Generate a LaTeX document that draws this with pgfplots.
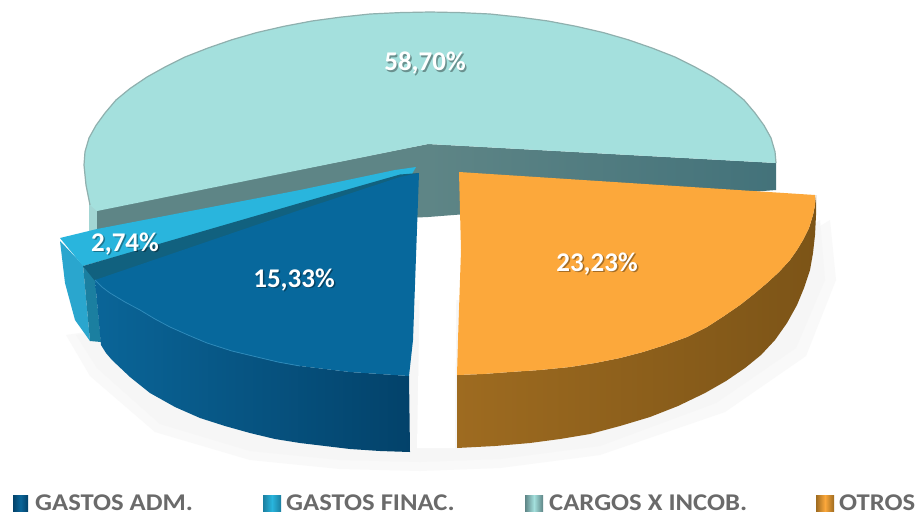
\documentclass[border=0pt]{standalone}
\usepackage{fontspec}
\setmainfont{Carlito}
\usepackage{graphicx}
\usepackage{pgfplots}
\pgfplotsset{compat=1.18}
\definecolor{tealtop}{HTML}{A4E0DD}
\definecolor{tealedge}{HTML}{8FB0AE}
\definecolor{tealwallA}{HTML}{5E8586}
\definecolor{tealwallB}{HTML}{43727A}
\definecolor{tealside}{HTML}{A3D6D4}
\definecolor{ltblue}{HTML}{29B5DD}
\definecolor{ltbluewall}{HTML}{2AA6CE}
\definecolor{ltbluedark}{HTML}{1B7FA0}
\definecolor{bluetop}{HTML}{07689C}
\definecolor{blueband}{HTML}{11617F}
\definecolor{bluewallA}{HTML}{0A6598}
\definecolor{bluewallB}{HTML}{03426A}
\definecolor{bluehi}{HTML}{2C88B8}
\definecolor{orangetop}{HTML}{FCA83B}
\definecolor{orangewallA}{HTML}{9E6B20}
\definecolor{orangewallB}{HTML}{7C5417}
\definecolor{legtext}{HTML}{6A6A6A}
\newcommand{\lab}[3]{%
  \node[text=black,opacity=.35,font=\bfseries\fontsize{27}{27}\selectfont] at (axis cs:#1+1.5,#2+1.5) {#3};
  \node[text=white,font=\bfseries\fontsize{27}{27}\selectfont] at (axis cs:#1,#2) {#3};}
\newcommand{\leg}[2]{%
  \node[text=legtext,anchor=west,inner sep=0pt,font=\bfseries\fontsize{24}{24}\selectfont] at (axis cs:#1,502.5) {\scalebox{1.11}[1]{#2}};}
\begin{document}
\begin{tikzpicture}
\begin{axis}[
  width=917pt,height=515pt,scale only axis,
  xmin=0,xmax=917,ymin=0,ymax=515,y dir=reverse,
  axis lines=none,clip=true]
% page
\addplot[fill=white,draw=none] coordinates {(0,0)(917,0)(917,515)(0,515)};
% soft shadow
\addplot[fill=black!2.5,draw=none] coordinates {(66,335)(90,376)(155,432)(250,460)(340,469)(420,471)(500,468)(600,455)(725,412)(806,356)(836,280)(830,220)(700,300)(300,300)};
\addplot[fill=black!3.5,draw=none] coordinates {(76,335)(97,368)(160,424)(250,451)(340,460)(420,462)(500,459)(600,446)(716,403)(796,348)(825,280)(820,220)(700,300)(300,300)};
\addplot[fill=white,draw=none] coordinates {(421,217)(457,217)(455,448)(417,448)};
% teal slice: side, back walls, top
\addplot[fill=tealside,draw=none] coordinates {(89,203)(97,210)(97,230)(89,236)};
\addplot[fill=tealwallA,draw=none] coordinates {(97,210)(428,144)(428,217)(97,232)};
\addplot[draw=none,left color=tealwallA,right color=tealwallB] coordinates {(428,144)(776,163)(776,190)(428,217)};
\addplot[fill=tealtop,draw=none] coordinates {(776,163)(775,151.7)(771,138)(764,125.4)(755,113)(744,100)(730,88.5)(713,77)(695,67)(675,57)(652,48)(628,39.7)(603,32.5)(576,26.3)(548,21)(520,17.2)(490,14)(460,12.6)(430,12)(400,12.6)(370,14)(340,17.2)(312,21)(284,26.3)(257,32.5)(232,39.7)(208,48)(185,57)(165,67)(147,77)(130,88.5)(116,100)(105,113)(96,125.4)(89,138)(85,151.7)(84,165)(86,185)(90,205)(97,211)(428,144)};
\addplot[draw=tealedge,line width=1.2pt] coordinates {(776,163)(775,151.7)(771,138)(764,125.4)(755,113)(744,100)(730,88.5)(713,77)(695,67)(675,57)(652,48)(628,39.7)(603,32.5)(576,26.3)(548,21)(520,17.2)(490,14)(460,12.6)(430,12)(400,12.6)(370,14)(340,17.2)(312,21)(284,26.3)(257,32.5)(232,39.7)(208,48)(185,57)(165,67)(147,77)(130,88.5)(116,100)(105,113)(96,125.4)(89,138)(85,151.7)(84,165)(86,185)(90,205)};
% light blue slice
\addplot[fill=ltbluewall,draw=none] coordinates {(60,241)(83,265)(90,341)(75,320)(65,283)};
\addplot[fill=ltbluedark,draw=none] coordinates {(83,265)(95,280)(101,342)(90,341)};
\addplot[fill=ltblue,draw=none] coordinates {(60,238)(97,229)(300,190)(395,170)(416,167)(412,174)(83,266)};
\addplot[fill=blueband,draw=none] coordinates {(83,266)(300,203)(400,174.5)(419,173)(300,240)(95,281)};
% dark blue slice
\addplot[draw=none,left color=bluewallA,right color=bluewallB] coordinates {(95,280)(102,287)(110,293)(125,302)(140,310)(155,319)(170,327)(188,335)(207,343)(232,351)(257,357)(278,362)(300,366)(325,369)(350,372)(380,374)(409,376)(410,452)(380,451)(350,449)(325,446)(300,443)(275,439)(250,433)(225,426)(200,418)(175,407)(150,393)(130,377)(112,360)(106,353)(101,345)};
\addplot[fill=bluetop,draw=none] coordinates {(419,173)(400,177)(300,210)(95,280)(102,287)(110,293)(125,302)(140,310)(155,319)(170,327)(188,335)(207,343)(232,351)(257,357)(278,362)(300,366)(325,369)(350,372)(380,374)(409,376)(413,340)};
\addplot[draw=bluehi,line width=.8pt] coordinates {(95,280)(102,287)(110,293)(125,302)(140,310)(155,319)(170,327)(188,335)(207,343)(232,351)(257,357)(278,362)(300,366)};
% orange slice
\addplot[draw=none,left color=orangewallA,right color=orangewallB] coordinates {(457,375)(483,374)(510,372)(540,370)(570,367)(595,363)(620,358)(643,352)(665,345)(687,337)(707,327)(724,316)(740,305)(754,294)(767,283)(779,272)(790,260)(797,250)(803,240)(809,228)(813,215)(815,205)(816,195)(816,215)(815,235)(813,253)(810,270)(804,288)(797,305)(787,323)(775,340)(761,355)(745,368)(726,381)(705,393)(678,406)(650,417)(620,426)(590,434)(560,439)(530,443)(495,446)(457,448)};
\addplot[fill=orangetop,draw=none] coordinates {(459,172)(815,195)(815,205)(813,215)(809,228)(803,240)(797,250)(790,260)(779,272)(767,283)(754,294)(740,305)(724,316)(707,327)(687,337)(665,345)(643,352)(620,358)(595,363)(570,367)(540,370)(510,372)(483,374)(457,375)(458,340)(461,250)};
% data labels
\lab{425}{63}{58,70\%}
\lab{597}{264}{23,23\%}
\lab{294}{280}{15,33\%}
\lab{125}{244}{2,74\%}
% legend keys
\addplot[draw=none,left color=bluewallB,right color=bluewallB,middle color=bluewallA] coordinates {(13,495)(28,495)(28,511)(13,511)};
\addplot[draw=none,left color=ltbluedark,right color=ltbluedark,middle color=ltblue] coordinates {(263,495)(281,495)(281,511)(263,511)};
\addplot[draw=none,left color=tealwallA,right color=tealwallA,middle color=tealtop] coordinates {(525,495)(543,495)(543,511)(525,511)};
\addplot[draw=none,left color=orangewallA,right color=orangewallA,middle color=orangetop] coordinates {(816,495)(834,495)(834,511)(816,511)};
\leg{35}{GASTOS ADM.}
\leg{286}{GASTOS FINAC.}
\leg{549}{CARGOS X INCOB.}
\leg{839}{OTROS}
\end{axis}
\end{tikzpicture}
\end{document}
